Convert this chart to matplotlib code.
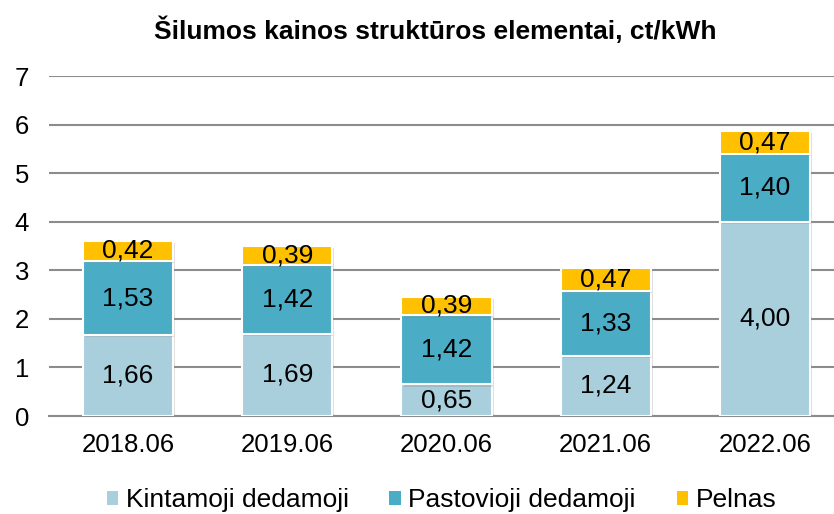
import matplotlib
matplotlib.use("Agg")
import matplotlib.pyplot as plt
import matplotlib.patheffects as pe
from matplotlib.patches import Patch
import numpy as np

categories = ["2018.06", "2019.06", "2020.06", "2021.06", "2022.06"]
kintamoji = [1.66, 1.69, 0.65, 1.24, 4.00]
pastovioji = [1.53, 1.42, 1.42, 1.33, 1.40]
pelnas = [0.42, 0.39, 0.39, 0.47, 0.47]
series_names = ["Kintamoji dedamoji", "Pastovioji dedamoji", "Pelnas"]
colors = ["#A9CEDC", "#4BACC6", "#FFC000"]
title = "Šilumos kainos struktūros elementai, ct/kWh"

plt.rcParams['font.family'] = ['Liberation Sans', 'DejaVu Sans']

fig = plt.figure(figsize=(8.34, 5.14), dpi=100)
ax = fig.add_axes([48.5/834, 1-416/514, (844.5-48.5)/834, (416-76)/514])

x = np.arange(len(categories))
bottom = np.zeros(len(categories))
shadow = [pe.SimplePatchShadow(offset=(1.5, -1.5), alpha=0.25, shadow_rgbFace='gray'), pe.Normal()]
for vals, name, col in zip([kintamoji, pastovioji, pelnas], series_names, colors):
    bars = ax.bar(x, vals, width=0.566, bottom=bottom, color=col, edgecolor='white',
                  linewidth=1.5, label=name, zorder=3)
    for b in bars:
        b.set_path_effects(shadow)
    for xi, v, b0 in zip(x, vals, bottom):
        ax.text(xi, b0 + v/2, f"{v:.2f}".replace('.', ','), ha='center', va='center',
                fontsize=19, color='black', zorder=5)
    bottom = bottom + np.array(vals)

ax.set_xlim(-0.5, len(categories)-0.5)
ax.set_ylim(0, 7)
ax.set_yticks(range(0, 8))
ax.set_xticks(x)
ax.set_xticklabels(categories)
ax.tick_params(axis='both', length=0, labelsize=18.5)
ax.tick_params(axis='y', pad=14)
ax.tick_params(axis='x', pad=12)
ax.yaxis.grid(True, color='#8C8C8C', linewidth=1.5, zorder=0)
ax.set_axisbelow(True)
for s in ['top', 'right', 'left']:
    ax.spines[s].set_visible(False)
ax.spines['bottom'].set_color('#8C8C8C')
ax.spines['bottom'].set_linewidth(1.5)

fig.text(435/834, 1-30/514, title, ha='center', va='center', fontsize=19, fontweight='bold')

handles = [Patch(facecolor=c, edgecolor='none') for c in colors]
leg = fig.legend(handles=handles, labels=series_names, loc='center', bbox_to_anchor=(441.5/834, 1-500/514),
                 ncol=3, frameon=False, fontsize=19, handlelength=0.42, handleheight=0.45,
                 handletextpad=0.3, columnspacing=1.55)

fig.savefig("out.png", dpi=100)
